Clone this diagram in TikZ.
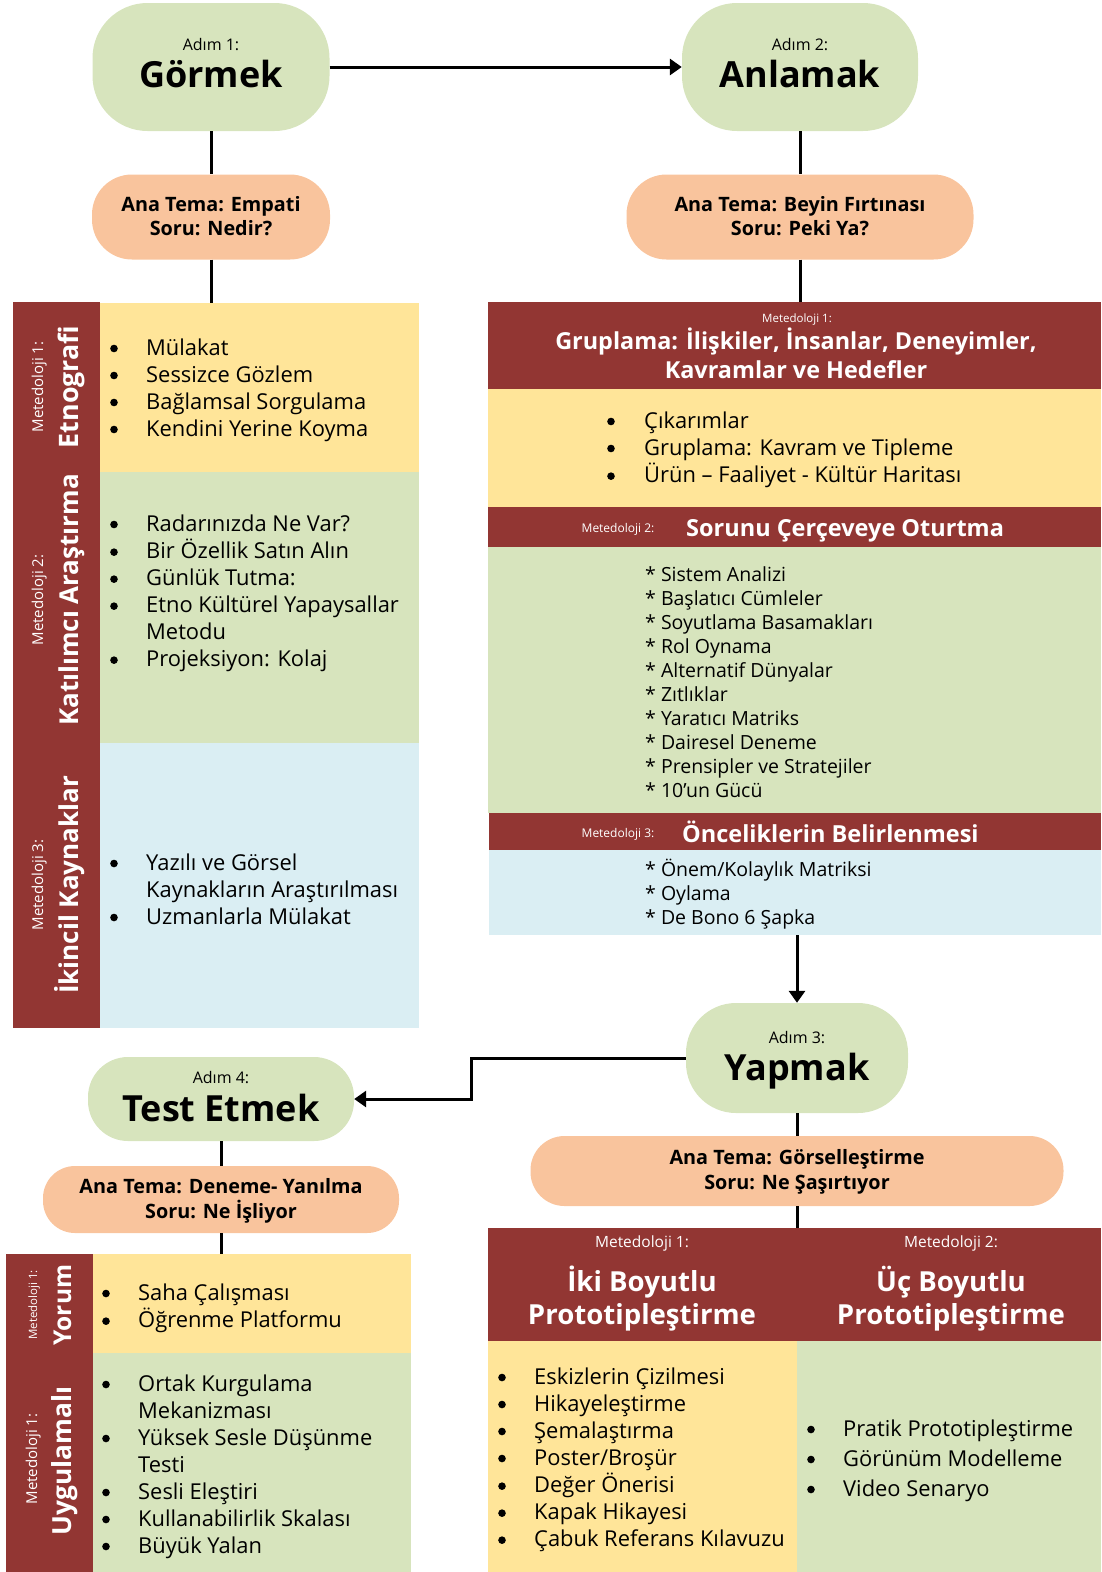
\documentclass[tikz,border=0pt]{standalone}
\usepackage{fontspec}
\setmainfont{Open Sans}
\usetikzlibrary{arrows.meta}
\definecolor{stepgreen}{HTML}{D7E4BD}
\definecolor{themeorange}{HTML}{F9C49D}
\definecolor{darkred}{HTML}{923633}
\definecolor{paleyellow}{HTML}{FFE599}
\definecolor{paleblue}{HTML}{DAEEF3}
\newcommand{\fs}[2]{\fontsize{#1}{#2}\selectfont}
\newcommand{\bul}{\tikz[baseline=-6.5pt]\fill[black] (0,0) circle (3.8pt);}
\newcommand{\itm}[1]{\bul & #1\\}
\newcommand{\contline}[1]{& #1\\}
\begin{document}
\begin{tikzpicture}[x=1pt,y=-1pt,
  stepbox/.style={fill=stepgreen, inner sep=0pt},
  themebox/.style={fill=themeorange, inner sep=0pt},
  panel/.style={inner sep=0pt, outer sep=0pt, anchor=north west},
  conn/.style={line width=3pt, black},
  arr/.style={conn, -{Triangle[length=12pt,width=16pt]}},
  steplabel/.style={anchor=base, inner sep=0pt, font=\fs{16}{18}},
  steptitle/.style={anchor=base, inner sep=0pt, font=\fs{36}{40}\bfseries},
  themetext/.style={anchor=base, inner sep=0pt, font=\fs{19.8}{22}\bfseries},
  lst/.style={anchor=base west, inner sep=0pt, font=\fs{21.9}{27}},
  stars/.style={anchor=base west, inner sep=0pt, font=\fs{19.5}{24.1}},
  vsmall/.style={rotate=90, anchor=base, inner sep=0pt, text=white, font=\fs{15}{18}},
  vbig/.style={rotate=90, anchor=base, inner sep=0pt, text=white, font=\fs{26}{30}\bfseries},
  hsmall/.style={anchor=base, inner sep=0pt, text=white},
  htitle/.style={anchor=base, inner sep=0pt, text=white},
]
\useasboundingbox (0,0) rectangle (1101,1572);

% ---------- step nodes ----------
\node[stepbox, rounded corners=55pt, minimum width=237pt, minimum height=128pt] (s1) at (211,67) {};
\node[steplabel] (s1a) at (211,50) {Adım 1:};
\node[steptitle] (s1b) at (211,87) {Görmek};

\node[stepbox, rounded corners=55pt, minimum width=236pt, minimum height=128pt] (s2) at (800,67) {};
\node[steplabel] (s2a) at (800,50) {Adım 2:};
\node[steptitle] (s2b) at (800,87) {Anlamak};

\node[stepbox, rounded corners=50pt, minimum width=222pt, minimum height=110pt] (s3) at (797,1058) {};
\node[steplabel] (s3a) at (797,1043) {Adım 3:};
\node[steptitle] (s3b) at (797,1080) {Yapmak};

\node[stepbox, rounded corners=40pt, minimum width=266pt, minimum height=84pt] (s4) at (221,1099) {};
\node[steplabel] (s4a) at (221,1083) {Adım 4:};
\node[steptitle] (s4b) at (221,1121) {Test Etmek};

% ---------- theme nodes ----------
\node[themebox, rounded corners=40pt, minimum width=238pt, minimum height=85pt] (t1) at (211,217) {};
\node[themetext] (t1a) at (211,211) {Ana Tema: Empati};
\node[themetext] (t1b) at (211,235) {Soru: Nedir?};

\node[themebox, rounded corners=40pt, minimum width=347pt, minimum height=85pt] (t2) at (800,217) {};
\node[themetext] (t2a) at (800,211) {Ana Tema: Beyin Fırtınası};
\node[themetext] (t2b) at (800,235) {Soru: Peki Ya?};

\node[themebox, rounded corners=34pt, minimum width=533pt, minimum height=70pt] (t3) at (797,1171) {};
\node[themetext] (t3a) at (797,1164) {Ana Tema: Görselleştirme};
\node[themetext] (t3b) at (797,1189) {Soru: Ne Şaşırtıyor};

\node[themebox, rounded corners=32pt, minimum width=356pt, minimum height=67pt] (t4) at (221,1199.5) {};
\node[themetext] (t4a) at (221,1193) {Ana Tema: Deneme- Yanılma};
\node[themetext] (t4b) at (221,1218) {Soru: Ne İşliyor};

% ---------- left panel (Görmek) ----------
\node[panel, fill=darkred, minimum width=87pt, minimum height=726pt] (lbar) at (13,302) {};
\node[panel, fill=paleyellow, minimum width=319pt, minimum height=169pt] (ly) at (100,303) {};
\node[panel, fill=stepgreen, minimum width=319pt, minimum height=271pt] (lg) at (100,472) {};
\node[panel, fill=paleblue, minimum width=319pt, minimum height=285pt] (lb) at (100,743) {};

\node[vsmall] (lm1) at (43,387) {Metedoloji 1:};
\node[vbig, font=\fs{26.8}{30}\bfseries] (lm1t) at (78,387) {Etnografi};
\node[vsmall] (lm2) at (43,600) {Metedoloji 2:};
\node[vbig] (lm2t) at (78,600) {Katılımcı Araştırma};
\node[vsmall] (lm3) at (43,885) {Metedoloji 3:};
\node[vbig] (lm3t) at (78,885) {İkincil Kaynaklar};

\node[lst] (lyl) at (110,355) {\begin{tabular}[t]{@{}p{36pt}@{}l@{}}
\itm{Mülakat}\itm{Sessizce Gözlem}\itm{Bağlamsal Sorgulama}\itm{Kendini Yerine Koyma}
\end{tabular}};
\node[lst] (lgl) at (110,531) {\begin{tabular}[t]{@{}p{36pt}@{}l@{}}
\itm{Radarınızda Ne Var?}\itm{Bir Özellik Satın Alın}\itm{Günlük Tutma:}\itm{Etno Kültürel Yapaysallar}\contline{Metodu}\itm{Projeksiyon: Kolaj}
\end{tabular}};
\node[lst] (lbl) at (110,870) {\begin{tabular}[t]{@{}p{36pt}@{}l@{}}
\itm{Yazılı ve Görsel}\contline{Kaynakların Araştırılması}\itm{Uzmanlarla Mülakat}
\end{tabular}};

% ---------- right panel (Anlamak) ----------
\node[panel, fill=darkred, minimum width=613pt, minimum height=87pt] (rh1) at (488,302) {};
\node[panel, fill=paleyellow, minimum width=613pt, minimum height=118pt] (ry) at (488,389) {};
\node[panel, fill=darkred, minimum width=613pt, minimum height=40pt] (rh2) at (488,507) {};
\node[panel, fill=stepgreen, minimum width=613pt, minimum height=266pt] (rg) at (488,547) {};
\node[panel, fill=darkred, minimum width=612pt, minimum height=37pt] (rh3) at (489,813) {};
\node[panel, fill=paleblue, minimum width=612pt, minimum height=85pt] (rb) at (489,850) {};

\node[hsmall, font=\fs{11.5}{14}] (rh1a) at (797,322) {Metedoloji 1:};
\node[htitle, font=\fs{23.4}{26}\bfseries] (rh1b) at (796,349) {Gruplama: İlişkiler, İnsanlar, Deneyimler,};
\node[htitle, font=\fs{23.4}{26}\bfseries] (rh1c) at (796,378) {Kavramlar ve Hedefler};
\node[hsmall, font=\fs{12}{14}] (rh2a) at (618,532) {Metedoloji 2:};
\node[htitle, anchor=base west, font=\fs{23.5}{26}\bfseries] (rh2b) at (686,536) {Sorunu Çerçeveye Oturtma};
\node[hsmall, font=\fs{12}{14}] (rh3a) at (618,837) {Metedoloji 3:};
\node[htitle, anchor=base west, font=\fs{23.5}{26}\bfseries] (rh3b) at (682,842) {Önceliklerin Belirlenmesi};

\node[lst] (ryl) at (607,428) {\begin{tabular}[t]{@{}p{37pt}@{}l@{}}
\itm{Çıkarımlar}\itm{Gruplama: Kavram ve Tipleme}\itm{Ürün – Faaliyet - Kültür Haritası}
\end{tabular}};
\node[stars] (rgl) at (645,581) {\begin{tabular}[t]{@{}l@{}}
{*} Sistem Analizi\\{*} Başlatıcı Cümleler\\{*} Soyutlama Basamakları\\{*} Rol Oynama\\{*} Alternatif Dünyalar\\{*} Zıtlıklar\\{*} Yaratıcı Matriks\\{*} Dairesel Deneme\\{*} Prensipler ve Stratejiler\\{*} 10'un Gücü
\end{tabular}};
\node[stars] (rbl) at (645,876) {\begin{tabular}[t]{@{}l@{}}
{*} Önem/Kolaylık Matriksi\\{*} Oylama\\{*} De Bono 6 Şapka
\end{tabular}};

% ---------- bottom left panel (Test Etmek) ----------
\node[panel, fill=darkred, minimum width=87pt, minimum height=318pt] (bbar) at (6,1254) {};
\node[panel, fill=paleyellow, minimum width=318pt, minimum height=99pt] (bly) at (93,1254) {};
\node[panel, fill=stepgreen, minimum width=318pt, minimum height=219pt] (blg) at (93,1353) {};

\node[vsmall, font=\fs{11.5}{14}] (bm1) at (37,1305) {Metedoloji 1:};
\node[vbig, font=\fs{24.5}{30}\bfseries] (bm1t) at (71,1305) {Yorum};
\node[vsmall] (bm2) at (37,1459) {Metedoloji 1:};
\node[vbig, font=\fs{26.3}{30}\bfseries] (bm2t) at (71,1461) {Uygulamalı};

\node[lst] (blyl) at (102,1300) {\begin{tabular}[t]{@{}p{36pt}@{}l@{}}
\itm{Saha Çalışması}\itm{Öğrenme Platformu}
\end{tabular}};
\node[lst] (blgl) at (102,1391) {\begin{tabular}[t]{@{}p{36pt}@{}l@{}}
\itm{Ortak Kurgulama}\contline{Mekanizması}\itm{Yüksek Sesle Düşünme}\contline{Testi}\itm{Sesli Eleştiri}\itm{Kullanabilirlik Skalası}\itm{Büyük Yalan}
\end{tabular}};

% ---------- bottom right panel (Yapmak) ----------
\node[panel, fill=darkred, minimum width=613pt, minimum height=113pt] (bh) at (488,1228) {};
\node[panel, fill=paleyellow, minimum width=309pt, minimum height=231pt] (bry) at (488,1341) {};
\node[panel, fill=stepgreen, minimum width=304pt, minimum height=231pt] (brg) at (797,1341) {};

\node[hsmall, font=\fs{15.5}{18}] (bh1a) at (642,1247) {Metedoloji 1:};
\node[htitle, font=\fs{27.6}{30}\bfseries] (bh1b) at (642,1291) {İki Boyutlu};
\node[htitle, font=\fs{27.6}{30}\bfseries] (bh1c) at (642,1324) {Prototipleştirme};
\node[hsmall, font=\fs{15.5}{18}] (bh2a) at (951,1247) {Metedoloji 2:};
\node[htitle, font=\fs{27.6}{30}\bfseries] (bh2b) at (951,1291) {Üç Boyutlu};
\node[htitle, font=\fs{27.6}{30}\bfseries] (bh2c) at (951,1324) {Prototipleştirme};

\node[lst] (bryl) at (498,1384) {\begin{tabular}[t]{@{}p{36pt}@{}l@{}}
\itm{Eskizlerin Çizilmesi}\itm{Hikayeleştirme}\itm{Şemalaştırma}\itm{Poster/Broşür}\itm{Değer Önerisi}\itm{Kapak Hikayesi}\itm{Çabuk Referans Kılavuzu}
\end{tabular}};
\node[lst, font=\fs{21.9}{30}] (brgl) at (807,1436) {\begin{tabular}[t]{@{}p{36pt}@{}l@{}}
\itm{Pratik Prototipleştirme}\itm{Görünüm Modelleme}\itm{Video Senaryo}
\end{tabular}};

% ---------- connectors ----------
\draw[arr] (s1.east) -- (s2.west);
\draw[conn] (s1.south) -- (t1.north);
\draw[conn] (t1.south) -- (t1.south |- ly.north);
\draw[conn] (s2.south) -- (t2.north);
\draw[conn] (t2.south) -- (t2.south |- rh1.north);
\draw[arr] (s3.north |- rb.south) -- (s3.north);
\coordinate (elbow) at (471,1058);
\draw[arr] (s3.west) -- (elbow) |- (s4.east);
\draw[conn] (s3.south) -- (t3.north);
\draw[conn] (t3.south) -- (t3.south |- bh.north);
\draw[conn] (s4.south) -- (t4.north);
\draw[conn] (t4.south) -- (t4.south |- bly.north);
\end{tikzpicture}
\end{document}
